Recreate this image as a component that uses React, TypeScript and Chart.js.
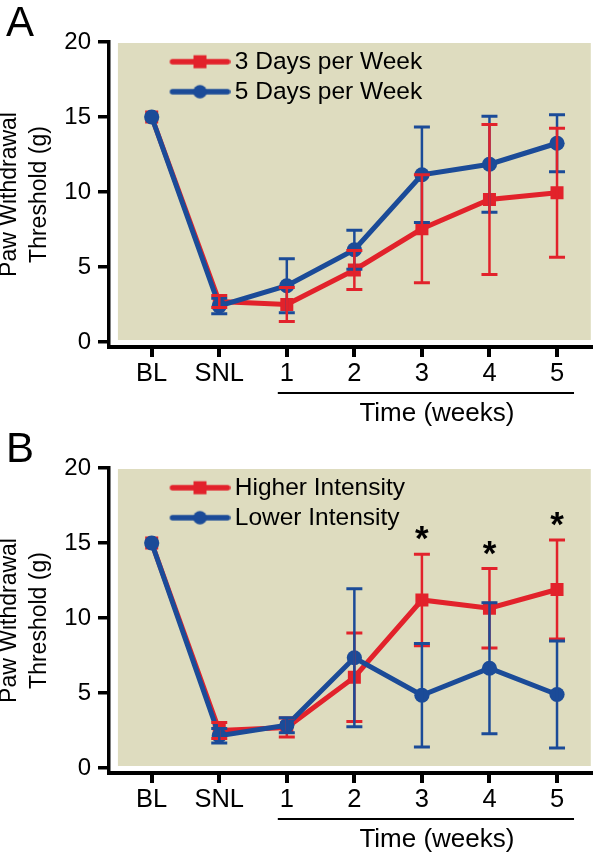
import React, { useEffect, useRef } from 'react';
import { Chart, registerables } from 'chart.js';

Chart.register(...registerables);

const FONT = "'Liberation Sans', Arial, Helvetica, sans-serif";
const RED = '#E2222B';
const BLUE = '#1B4B98';
const BG = '#DEDCBF';

// ---- shared axis content ----
const categories = ['BL', 'SNL', '1', '2', '3', '4', '5'];
const yTicks = [0, 5, 10, 15, 20];
const yTitle = ['Paw Withdrawal', 'Threshold (g)'];
const weekGroupLabel = 'Time (weeks)';

// ---- Panel A ----
const labelsA = ['3 Days per Week', '5 Days per Week'];
const threeDays = [15, 2.7, 2.5, 4.8, 7.55, 9.5, 9.95];
const threeDaysSem = [0, 0.4, 1.13, 1.3, 3.6, 5.0, 4.3];
const fiveDays = [15, 2.4, 3.75, 6.15, 11.15, 11.85, 13.25];
const fiveDaysSem = [0, 0.52, 1.8, 1.3, 3.18, 3.2, 1.9];
const significanceA = ['', '', '', '', '', '', ''];

// ---- Panel B ----
const labelsB = ['Higher Intensity', 'Lower Intensity'];
const higher = [15, 2.5, 2.7, 6.05, 11.2, 10.65, 11.9];
const higherSem = [0, 0.53, 0.63, 2.95, 3.05, 2.65, 3.3];
const lower = [15, 2.15, 2.85, 7.35, 4.85, 6.65, 4.9];
const lowerSem = [0, 0.49, 0.5, 4.6, 3.45, 4.37, 3.57];
const significanceB = ['', '', '', '', '*', '*', '*'];

function makeIcon(color: string, style: string) {
  const c = document.createElement('canvas');
  c.width = 124;
  c.height = 20;
  const g = c.getContext('2d')!;
  g.strokeStyle = color;
  g.lineWidth = 5.5;
  g.lineCap = 'round';
  g.beginPath();
  g.moveTo(66, 10);
  g.lineTo(121, 10);
  g.stroke();
  g.fillStyle = color;
  if (style === 'rect') {
    g.fillRect(87, 3.5, 13, 13);
  } else {
    g.beginPath();
    g.arc(93.5, 10, 6.8, 0, Math.PI * 2);
    g.fill();
  }
  return c;
}

type PanelProps = {
  top: number;
  letter: string;
  labels: string[];
  series: number[][];
  sems: number[][];
  significance: string[];
  errOrder: number[];
};

function Panel({ top, letter, labels, series, sems, significance, errOrder }: PanelProps) {
  const ref = useRef<HTMLCanvasElement>(null);

  useEffect(() => {
    if (!ref.current) return;
    const colors = [RED, BLUE];
    const styles = ['rect', 'circle'];
    const radii = [9.2, 7.6];
    const icons = [makeIcon(RED, 'rect'), makeIcon(BLUE, 'circle')];

    const datasets = series.map((vals, di) => ({
      label: labels[di],
      data: categories.map((_, i) => ({ x: i, y: vals[i] })),
      borderColor: colors[di],
      backgroundColor: colors[di],
      borderWidth: 5,
      pointStyle: styles[di],
      pointRadius: radii[di],
      pointBorderWidth: 0,
      pointBackgroundColor: colors[di],
      tension: 0,
      order: di === 0 ? 1 : 0,
      errorBars: sems[di],
    }));

    const bgPlugin = {
      id: 'plotBg',
      beforeDraw(chart: any) {
        const { ctx, chartArea, scales } = chart;
        const left = scales.x.getPixelForValue(-0.5);
        const bottom = scales.y.getPixelForValue(0) - 2;
        ctx.save();
        ctx.fillStyle = BG;
        ctx.fillRect(left, chartArea.top + 1, chartArea.right - left, bottom - chartArea.top - 1);
        ctx.restore();
      },
    };

    const errPlugin = {
      id: 'errBars',
      afterDatasetsDraw(chart: any) {
        const { ctx, scales } = chart;
        ctx.save();
        errOrder.forEach((di) => {
          const ds = chart.data.datasets[di];
          const errs: number[] = ds.errorBars;
          ctx.strokeStyle = ds.borderColor;
          ds.data.forEach((pt: any, i: number) => {
            const e = errs[i];
            if (!e) return;
            const px = scales.x.getPixelForValue(pt.x);
            const t = scales.y.getPixelForValue(pt.y + e);
            const b = scales.y.getPixelForValue(pt.y - e);
            ctx.lineWidth = 2.5;
            ctx.beginPath();
            ctx.moveTo(px, t);
            ctx.lineTo(px, b);
            ctx.stroke();
            ctx.lineWidth = 3;
            ctx.beginPath();
            ctx.moveTo(px - 8, t);
            ctx.lineTo(px + 8, t);
            ctx.moveTo(px - 8, b);
            ctx.lineTo(px + 8, b);
            ctx.stroke();
          });
        });
        ctx.restore();
      },
    };

    const sigPlugin = {
      id: 'sigMarks',
      afterDatasetsDraw(chart: any) {
        const { ctx, scales } = chart;
        const ds = chart.data.datasets[0];
        ctx.save();
        ctx.font = `bold 35px ${FONT}`;
        ctx.fillStyle = '#000';
        ctx.textAlign = 'center';
        ctx.textBaseline = 'alphabetic';
        significance.forEach((m, i) => {
          if (!m) return;
          const topPx = scales.y.getPixelForValue(ds.data[i].y + ds.errorBars[i]);
          ctx.fillText(m, scales.x.getPixelForValue(i), topPx - 4);
        });
        ctx.restore();
      },
    };

    const groupPlugin = {
      id: 'weekGroup',
      afterDraw(chart: any) {
        const { ctx, chartArea, scales } = chart;
        const x1 = scales.x.getPixelForValue(categories.indexOf('1')) - 9;
        const x2 = scales.x.getPixelForValue(categories.indexOf('5')) + 17;
        const ly = chartArea.bottom + 46;
        ctx.save();
        ctx.strokeStyle = '#000';
        ctx.lineWidth = 2;
        ctx.beginPath();
        ctx.moveTo(x1, ly);
        ctx.lineTo(x2, ly);
        ctx.stroke();
        ctx.font = `26px ${FONT}`;
        ctx.fillStyle = '#000';
        ctx.textAlign = 'center';
        ctx.textBaseline = 'middle';
        ctx.fillText(weekGroupLabel, (x1 + x2) / 2 + 11, chartArea.bottom + 67);
        ctx.restore();
      },
    };

    const chart = new Chart(ref.current, {
      type: 'line',
      data: { datasets: datasets as any },
      plugins: [bgPlugin, errPlugin, sigPlugin, groupPlugin],
      options: {
        animation: false,
        responsive: false,
        maintainAspectRatio: false,
        layout: { padding: { top: 42, right: 3, left: 0, bottom: 0 } },
        font: { family: FONT },
        color: '#000',
        plugins: {
          tooltip: { enabled: false },
          title: { display: false },
          legend: {
            position: 'chartArea' as any,
            align: 'start',
            title: {
              display: true,
              text: ' ',
              font: { family: FONT, size: 10, lineHeight: 1 },
              padding: { top: 34, bottom: 0 },
            },
            labels: {
              usePointStyle: true,
              pointStyleWidth: 108,
              padding: 5.5,
              color: '#000',
              font: { family: FONT, size: 24.5 },
              generateLabels: (ch: any) =>
                ch.data.datasets.map((ds: any, i: number) => ({
                  text: ds.label,
                  pointStyle: icons[i],
                  fillStyle: colors[i],
                  strokeStyle: colors[i],
                  fontColor: '#000',
                  lineWidth: 0,
                  hidden: false,
                  datasetIndex: i,
                })),
            },
          },
        },
        scales: {
          x: {
            type: 'linear',
            min: -0.632,
            max: 6.5,
            afterBuildTicks: (s: any) => {
              s.ticks = categories.map((_, i) => ({ value: i }));
            },
            afterFit: (s: any) => {
              s.height = 80;
            },
            ticks: {
              autoSkip: false,
              maxRotation: 0,
              padding: 2,
              color: '#000',
              font: { family: FONT, size: 25.5 },
              callback: (v: any) => categories[v as number],
            },
            grid: {
              drawOnChartArea: false,
              drawTicks: true,
              tickLength: 10,
              tickWidth: 4,
              tickColor: '#000',
              lineWidth: 4,
              color: '#000',
            },
            border: { display: true, color: '#000', width: 4 },
          },
          y: {
            type: 'linear',
            min: -1 / 3,
            max: 20,
            afterBuildTicks: (s: any) => {
              s.ticks = yTicks.map((v) => ({ value: v }));
            },
            afterFit: (s: any) => {
              s.width = 109;
            },
            ticks: {
              padding: 7,
              color: '#000',
              font: { family: FONT, size: 24 },
            },
            grid: {
              drawOnChartArea: false,
              drawTicks: true,
              tickLength: 11,
              tickWidth: 3.5,
              tickColor: '#000',
              lineWidth: 3.5,
              color: '#000',
            },
            border: { display: true, color: '#000', width: 3.5 },
            title: {
              display: true,
              text: yTitle,
              color: '#000',
              font: { family: FONT, size: 23, lineHeight: 1.3 },
              padding: { top: -5, bottom: 0 },
            },
          },
        },
      } as any,
    });
    return () => chart.destroy();
  }, []);

  return (
    <div style={{ position: 'absolute', left: 0, top, width: 600, height: 427 }}>
      <canvas ref={ref} width={600} height={427} style={{ display: 'block' }} />
      <div
        style={{
          position: 'absolute',
          left: 6,
          top: 1,
          fontFamily: FONT,
          fontSize: 42,
          lineHeight: 1,
          color: '#000',
        }}
      >
        {letter}
      </div>
    </div>
  );
}

export default function App() {
  return (
    <div style={{ position: 'absolute', left: 0, top: 0, width: 600, height: 855, background: '#fff' }}>
      <Panel
        top={0}
        letter="A"
        labels={labelsA}
        series={[threeDays, fiveDays]}
        sems={[threeDaysSem, fiveDaysSem]}
        significance={significanceA}
        errOrder={[1, 0]}
      />
      <Panel
        top={426}
        letter="B"
        labels={labelsB}
        series={[higher, lower]}
        sems={[higherSem, lowerSem]}
        significance={significanceB}
        errOrder={[0, 1]}
      />
    </div>
  );
}
